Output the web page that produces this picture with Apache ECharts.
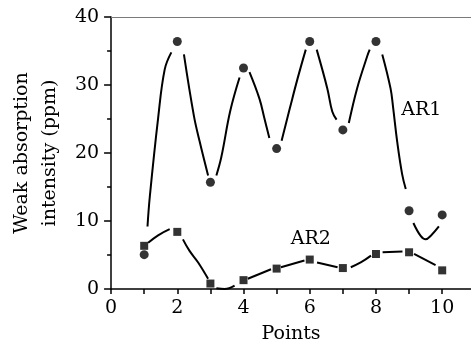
<!DOCTYPE html>
<html>
<head>
<meta charset="utf-8">
<script src="https://cdn.jsdelivr.net/npm/echarts@6/dist/echarts.min.js"></script>
<style>
html,body{margin:0;padding:0;background:#fff;}
#chart{width:471px;height:349px;}
</style>
</head>
<body>
<div id="chart"></div>
<script>
// Data
const points = [1, 2, 3, 4, 5, 6, 7, 8, 9, 10];
const ar1Values = [5.05, 36.4, 15.7, 32.5, 20.65, 36.4, 23.4, 36.4, 11.5, 10.9];
const ar2Values = [6.35, 8.4, 0.8, 1.3, 3.0, 4.33, 3.08, 5.15, 5.4, 2.74];

// Fitted AR1 curve as drawn (segments broken around markers)
const ar1CurveSegments = [
  [[1.10, 9.2], [1.17, 13.6], [1.42, 25.1], [1.62, 32.3], [1.82, 34.8]],
  [[2.20, 34.5], [2.50, 25.5], [2.67, 21.8], [2.93, 16.7]],
  [[3.18, 16.7], [3.33, 19.4], [3.60, 26.2], [3.88, 31.1]],
  [[4.18, 31.9], [4.48, 28.0], [4.63, 25.1], [4.78, 22.2]],
  [[5.15, 21.8], [5.40, 26.6], [5.63, 30.9], [5.88, 35.2]],
  [[6.21, 35.2], [6.53, 29.5], [6.68, 26.1], [6.81, 24.9]],
  [[7.18, 24.4], [7.43, 29.5], [7.74, 34.3], [7.81, 35.2]],
  [[8.19, 34.5], [8.44, 29.5], [8.52, 26.6], [8.64, 21.7], [8.79, 16.9], [8.90, 14.7]],
  [[9.13, 9.7], [9.35, 7.8], [9.50, 7.3], [9.65, 7.8], [9.90, 9.2]]
];
// AR2 connecting line as drawn (segments broken around markers)
const ar2LineSegments = [
  [[1.12, 6.8], [1.42, 7.9], [1.77, 8.8]],
  [[2.17, 7.3], [2.37, 5.6], [2.63, 3.9], [2.93, 1.5]],
  [[3.18, 0.1], [3.43, 0.0], [3.73, 0.5]],
  [[4.13, 1.5], [4.83, 2.9]],
  [[5.13, 3.2], [5.84, 4.2]],
  [[6.22, 3.9], [6.84, 3.2]],
  [[7.24, 3.2], [7.54, 3.9], [7.85, 4.9]],
  [[8.20, 5.4], [8.80, 5.5]],
  [[9.15, 5.15], [9.80, 3.5]]
];
const xTickLabels = [0, 2, 4, 6, 8, 10];
const xTickMarks = [0, 1, 2, 3, 4, 5, 6, 7, 8, 9, 10];
const yTickLabels = [0, 10, 20, 30, 40];
const seriesLabels = [{ name: 'AR1', at: [9.37, 26.3] }, { name: 'AR2', at: [6.03, 7.3] }];

const FONT = 'DejaVu Serif';
const series = [];
ar1CurveSegments.forEach(seg => series.push({
  type: 'line', data: seg, smooth: 0.4, symbol: 'none', silent: true,
  lineStyle: { color: '#000', width: 2 }, z: 2
}));
ar2LineSegments.forEach(seg => series.push({
  type: 'line', data: seg, smooth: 0.4, symbol: 'none', silent: true,
  lineStyle: { color: '#000', width: 2 }, z: 2
}));
series.push({
  type: 'scatter', name: 'AR1', data: points.map((p, i) => [p, ar1Values[i]]),
  symbol: 'circle', symbolSize: 9, itemStyle: { color: '#000' }, z: 3,
  markPoint: {
    symbol: 'rect', symbolSize: 1, itemStyle: { color: 'rgba(0,0,0,0)' },
    data: [{ coord: seriesLabels[0].at, label: { show: true, position: 'inside', formatter: seriesLabels[0].name, color: '#000', fontFamily: FONT, fontSize: 19 } }]
  }
});
series.push({
  type: 'scatter', name: 'AR2', data: points.map((p, i) => [p, ar2Values[i]]),
  symbol: 'rect', symbolSize: 8, itemStyle: { color: '#000' }, z: 3,
  markPoint: {
    symbol: 'rect', symbolSize: 1, itemStyle: { color: 'rgba(0,0,0,0)' },
    data: [{ coord: seriesLabels[1].at, label: { show: true, position: 'inside', formatter: seriesLabels[1].name, color: '#000', fontFamily: FONT, fontSize: 19 } }]
  }
});

const chart = echarts.init(document.getElementById('chart'), null, { renderer: 'canvas' });
chart.setOption({
  animation: false,
  backgroundColor: '#fff',
  grid: { left: 110, top: 17, right: 0, bottom: 55, containLabel: false },
  xAxis: [{
    type: 'value', min: 0, max: 10.87, interval: 1, position: 'bottom',
    name: 'Points', nameLocation: 'middle', nameGap: 36,
    nameTextStyle: { fontFamily: FONT, fontSize: 19, color: '#000' },
    axisLine: { show: true, onZero: false, lineStyle: { color: '#000', width: 1.5 } },
    axisTick: { show: true, inside: false, length: 5, customValues: xTickMarks, lineStyle: { color: '#000', width: 1.5 } },
    axisLabel: { margin: 10, fontFamily: FONT, fontSize: 19, color: '#000', customValues: xTickLabels,
      formatter: v => xTickLabels.indexOf(v) >= 0 ? String(v) : '' },
    splitLine: { show: false }
  }, {
    type: 'value', min: 0, max: 10.87, position: 'top',
    axisLine: { show: true, onZero: false, lineStyle: { color: '#7a7a7a', width: 1.2 } },
    axisTick: { show: false }, axisLabel: { show: false }, splitLine: { show: false }
  }],
  yAxis: {
    type: 'value', min: 0, max: 40, interval: 10,
    name: 'Weak absorption\nintensity (ppm)', nameLocation: 'middle', nameGap: 43,
    nameTextStyle: { fontFamily: FONT, fontSize: 19, color: '#000', lineHeight: 28 },
    axisLine: { show: true, lineStyle: { color: '#000', width: 1.5 } },
    axisTick: { show: true, length: 7, lineStyle: { color: '#000', width: 1.5 } },
    minorTick: { show: true, splitNumber: 2, length: 4, lineStyle: { color: '#000', width: 1.5 } },
    axisLabel: { margin: 12, fontFamily: FONT, fontSize: 19, color: '#000',
      formatter: v => yTickLabels.indexOf(v) >= 0 ? String(v) : '' },
    splitLine: { show: false }
  },
  series: series
});
</script>
</body>
</html>
